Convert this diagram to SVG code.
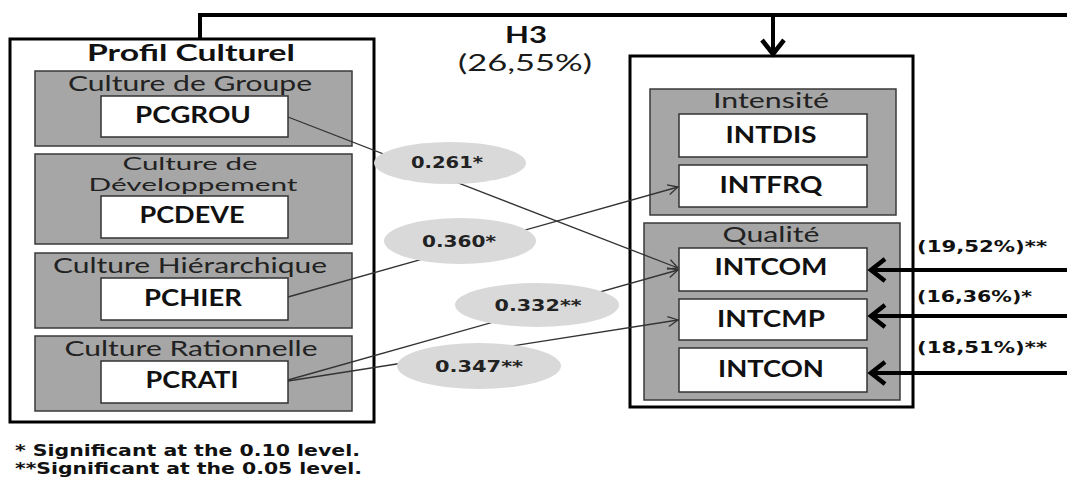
<svg xmlns="http://www.w3.org/2000/svg" width="1067" height="479" viewBox="0 0 1067 479">
<style>
.outer{fill:#fff;stroke:#000;stroke-width:3}
.grp{fill:#a6a6a6;stroke:#3a3a3a;stroke-width:1.5}
.box{fill:#fff;stroke:#333;stroke-width:1.5}
.lbl{font-family:Lato,"Open Sans",sans-serif;font-size:22px;fill:#222;text-anchor:middle}
.var{font-family:Lato,"Open Sans",sans-serif;font-size:22px;font-weight:bold;fill:#111;text-anchor:middle}
.coef{font-family:"DejaVu Sans",Verdana,sans-serif;font-size:15px;font-weight:bold;fill:#222;text-anchor:middle}
.pct{font-family:"DejaVu Sans",Verdana,sans-serif;font-size:15px;font-weight:bold;fill:#111}
.note{font-family:"DejaVu Sans",Verdana,sans-serif;font-size:16px;font-weight:bold;fill:#111}
.thin{fill:none;stroke:#333;stroke-width:1.3;marker-end:url(#a)}
.thick{fill:none;stroke:#000;stroke-width:4}
.ell{fill:#d9d9d9}
</style>
<defs>
<marker id="a" markerUnits="userSpaceOnUse" viewBox="-12 -7 14 14" refX="0" refY="0" markerWidth="14" markerHeight="14" orient="auto">
<path d="M-10,-5 L0,0 L-10,5" fill="none" stroke="#333" stroke-width="1.3"/>
</marker>
<marker id="b" markerUnits="userSpaceOnUse" viewBox="-20 -15 24 30" refX="0" refY="0" markerWidth="24" markerHeight="30" orient="auto">
<path d="M-15,-11 L-1,0 L-15,11" fill="none" stroke="#000" stroke-width="4.5"/>
</marker>
</defs>

<g id="profil">
<rect class="outer" x="10" y="39" width="364" height="383"/>
<text class="var" x="191" y="61" textLength="208" lengthAdjust="spacingAndGlyphs">Profil Culturel</text>
</g>
<g id="groupe">
<rect class="grp" x="35" y="71" width="317" height="75"/>
<text class="lbl" x="190" y="91" textLength="244" lengthAdjust="spacingAndGlyphs">Culture de Groupe</text>
<rect class="box" x="101" y="96" width="187" height="41"/>
<text class="var" x="193" y="123" textLength="116" lengthAdjust="spacingAndGlyphs">PCGROU</text>
</g>
<g id="developpement">
<rect class="grp" x="35" y="154" width="317" height="90"/>
<text class="lbl" x="190" y="170" style="font-size:17px" textLength="135" lengthAdjust="spacingAndGlyphs">Culture de</text>
<text class="lbl" x="193" y="191" style="font-size:17px" textLength="209" lengthAdjust="spacingAndGlyphs">Développement</text>
<rect class="box" x="101" y="196" width="187" height="42"/>
<text class="var" x="192" y="223" textLength="105" lengthAdjust="spacingAndGlyphs">PCDEVE</text>
</g>
<g id="hierarchique">
<rect class="grp" x="35" y="253" width="317" height="75"/>
<text class="lbl" x="190" y="273" textLength="274" lengthAdjust="spacingAndGlyphs">Culture Hiérarchique</text>
<rect class="box" x="101" y="278" width="187" height="42"/>
<text class="var" x="193" y="306" textLength="98" lengthAdjust="spacingAndGlyphs">PCHIER</text>
</g>
<g id="rationnelle">
<rect class="grp" x="35" y="336" width="317" height="75"/>
<text class="lbl" x="191" y="356" textLength="253" lengthAdjust="spacingAndGlyphs">Culture Rationnelle</text>
<rect class="box" x="101" y="361" width="187" height="42"/>
<text class="var" x="192" y="388" textLength="93" lengthAdjust="spacingAndGlyphs">PCRATI</text>
</g>

<g id="interaction">
<rect class="outer" x="630" y="56" width="283" height="351"/>
</g>
<g id="intensite">
<rect class="grp" x="650" y="89" width="246" height="126"/>
<text class="lbl" x="771" y="108" textLength="116" lengthAdjust="spacingAndGlyphs">Intensité</text>
<rect class="box" x="679" y="114" width="188" height="43"/>
<text class="var" x="771" y="143" textLength="91" lengthAdjust="spacingAndGlyphs">INTDIS</text>
<rect class="box" x="679" y="165" width="188" height="42"/>
<text class="var" x="771" y="193" textLength="103" lengthAdjust="spacingAndGlyphs">INTFRQ</text>
</g>
<g id="qualite">
<rect class="grp" x="644" y="223" width="256" height="177"/>
<text class="lbl" x="771" y="242" textLength="97" lengthAdjust="spacingAndGlyphs">Qualité</text>
<rect class="box" x="679" y="248" width="188" height="43"/>
<text class="var" x="771" y="275" textLength="113" lengthAdjust="spacingAndGlyphs">INTCOM</text>
<rect class="box" x="679" y="299" width="188" height="41"/>
<text class="var" x="771" y="327" textLength="108" lengthAdjust="spacingAndGlyphs">INTCMP</text>
<rect class="box" x="679" y="348" width="188" height="44"/>
<text class="var" x="771" y="377" textLength="106" lengthAdjust="spacingAndGlyphs">INTCON</text>
</g>

<g id="connectors">
<path class="thin" d="M288,117 L678,268"/>
<path class="thin" d="M288,297 L678,187"/>
<path class="thin" d="M288,380 L678,270"/>
<path class="thin" d="M288,381 L678,320"/>
<path class="thick" d="M200,39 L200,15 L1067,15"/>
<path class="thick" d="M773,15 L773,55" marker-end="url(#b)"/>
<path class="thick" d="M1067,270 L870,270" marker-end="url(#b)"/>
<path class="thick" d="M1067,316 L870,316" marker-end="url(#b)"/>
<path class="thick" d="M1067,373 L870,373" marker-end="url(#b)"/>
<g id="lbl-h3">
<text class="var" x="526" y="43" style="font-size:23px" textLength="42" lengthAdjust="spacingAndGlyphs">H3</text>
<text class="lbl" x="525" y="71" style="font-size:24px;fill:#1a1a1a" textLength="134" lengthAdjust="spacingAndGlyphs">(26,55%)</text>
</g>
<g id="lbl-261">
<ellipse class="ell" cx="450" cy="163" rx="76" ry="21"/>
<text class="coef" x="447" y="168" textLength="72" lengthAdjust="spacingAndGlyphs">0.261*</text>
</g>
<g id="lbl-360">
<ellipse class="ell" cx="460" cy="241" rx="76" ry="23"/>
<text class="coef" x="459" y="247" textLength="74" lengthAdjust="spacingAndGlyphs">0.360*</text>
</g>
<g id="lbl-332">
<ellipse class="ell" cx="537" cy="305" rx="82" ry="22"/>
<text class="coef" x="538" y="311" textLength="87" lengthAdjust="spacingAndGlyphs">0.332**</text>
</g>
<g id="lbl-347">
<ellipse class="ell" cx="479" cy="366" rx="82" ry="23"/>
<text class="coef" x="479" y="372" textLength="88" lengthAdjust="spacingAndGlyphs">0.347**</text>
</g>
<text class="pct" x="917" y="252" textLength="130" lengthAdjust="spacingAndGlyphs">(19,52%)**</text>
<text class="pct" x="917" y="302" textLength="115" lengthAdjust="spacingAndGlyphs">(16,36%)*</text>
<text class="pct" x="917" y="353" textLength="130" lengthAdjust="spacingAndGlyphs">(18,51%)**</text>
</g>

<g id="legend">
<text class="note" x="15" y="456" textLength="345" lengthAdjust="spacingAndGlyphs">* Significant at the 0.10 level.</text>
<text class="note" x="15" y="474" textLength="347" lengthAdjust="spacingAndGlyphs">**Significant at the 0.05 level.</text>
</g>
</svg>
